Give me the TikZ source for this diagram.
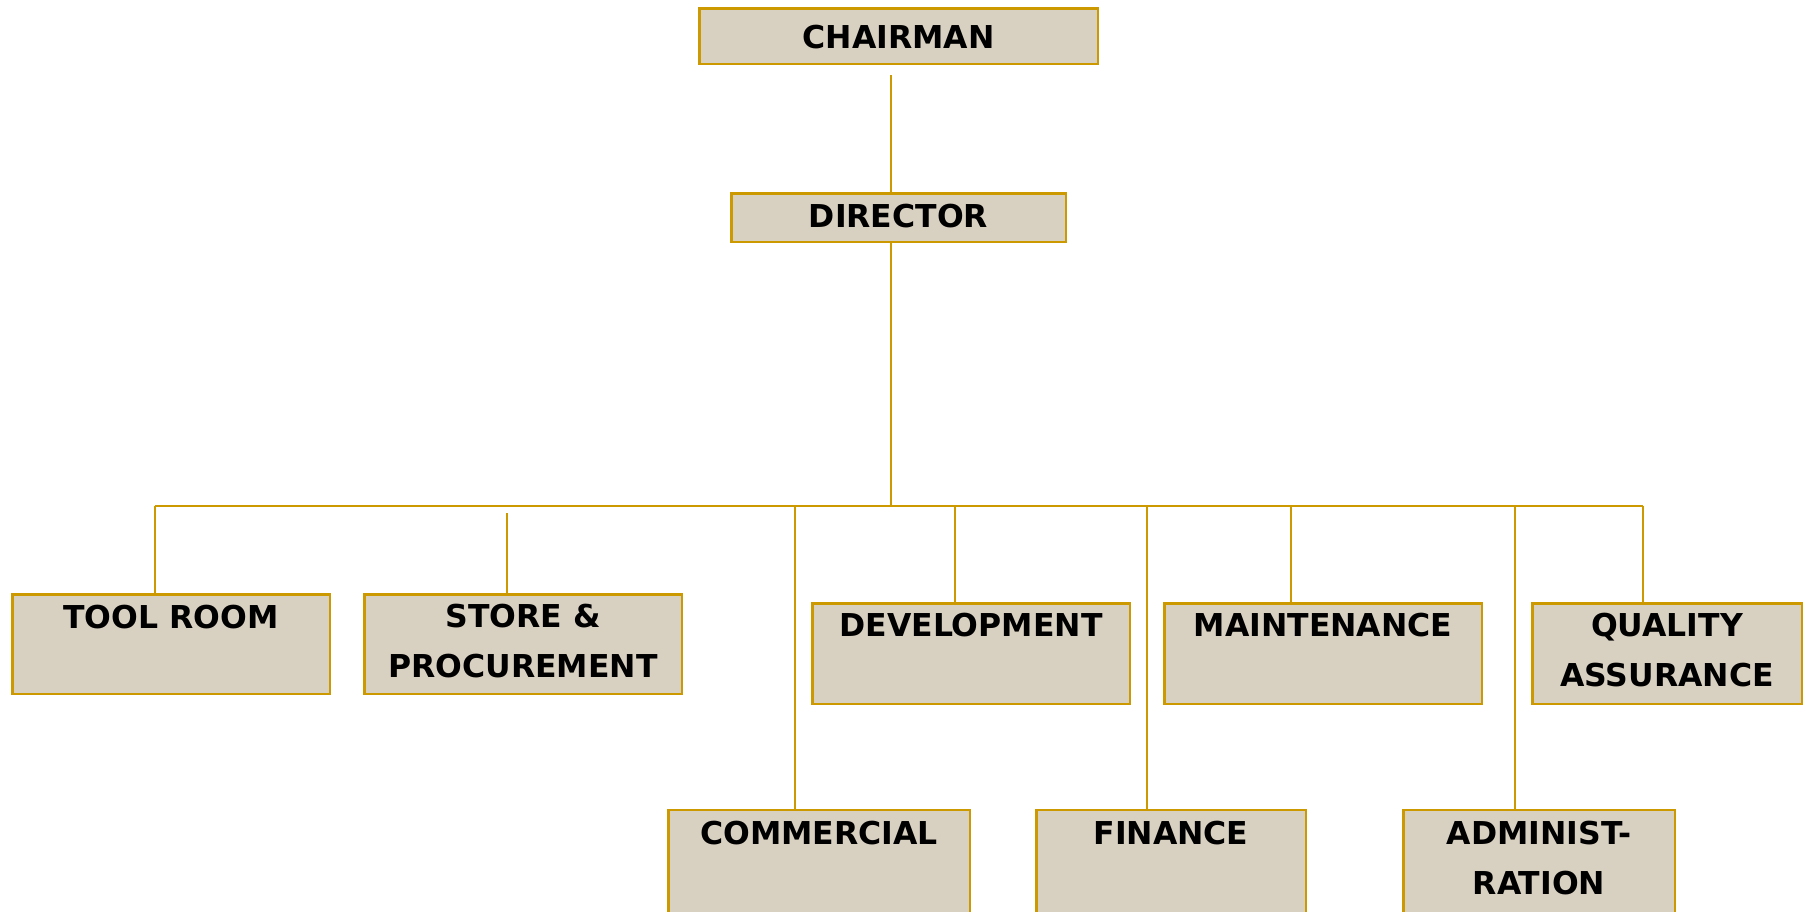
\documentclass[tikz,border=0pt]{standalone}
\usepackage{fontspec}
\setmainfont{DejaVu Sans}
\definecolor{gold}{RGB}{204,153,0}
\definecolor{tanfill}{RGB}{216,208,193}
\tikzset{
  box/.style={draw=gold, fill=tanfill, line width=2.5pt, inner sep=0pt, outer sep=0pt},
  lbl/.style={anchor=base, inner sep=0pt, outer sep=0pt, text=black, font=\fontsize{31.5}{50}\selectfont\bfseries},
  conn/.style={draw=gold, line width=2.5pt}
}
\begin{document}
\begin{tikzpicture}[x=1pt, y=-1pt]
\useasboundingbox (0,0) rectangle (1806,911);
\clip (0,0) rectangle (1806,911);
% boxes
\node[box, minimum width=398.5pt, minimum height=55.5pt] (chair) at (898.5,36) {};
\node[box, minimum width=334.5pt, minimum height=48.5pt] (dir) at (898.5,217.5) {};
\node[box, minimum width=317.5pt, minimum height=99.5pt] (tool) at (171,644) {};
\node[box, minimum width=317.5pt, minimum height=99.5pt] (store) at (523,644) {};
\node[box, minimum width=317.5pt, minimum height=100.5pt] (dev) at (971,653.5) {};
\node[box, minimum width=317.5pt, minimum height=100.5pt] (maint) at (1323,653.5) {};
\node[box, minimum width=269.5pt, minimum height=100.5pt] (qa) at (1667,653.5) {};
\node[box, minimum width=301.5pt, minimum height=120pt] (comm) at (819,870) {};
\node[box, minimum width=269.5pt, minimum height=120pt] (fin) at (1171,870) {};
\node[box, minimum width=271.5pt, minimum height=120pt] (admin) at (1539,870) {};
% texts
\node[lbl] (chair-t) at (898.5,48) {CHAIRMAN};
\node[lbl] (dir-t) at (898.5,227) {DIRECTOR};
\node[lbl] (tool-t) at (171,628) {TOOL ROOM};
\node[lbl] (store-t1) at (523,627) {STORE \&};
\node[lbl] (store-t2) at (523,677) {PROCUREMENT};
\node[lbl] (dev-t) at (971,636) {DEVELOPMENT};
\node[lbl] (maint-t) at (1323,636) {MAINTENANCE};
\node[lbl] (qa-t1) at (1667,636) {QUALITY};
\node[lbl] (qa-t2) at (1667,686) {ASSURANCE};
\node[lbl] (comm-t) at (819,844) {COMMERCIAL};
\node[lbl] (fin-t) at (1171,844) {FINANCE};
\node[lbl] (admin-t1) at (1539,844) {ADMINIST-};
\node[lbl] (admin-t2) at (1539,894) {RATION};
% connector coordinates
\coordinate (ctop) at (891,75);
\coordinate (dtop) at (891,192);
\coordinate (dbot) at (891,243);
\coordinate (hub) at (891,506);
\coordinate (busL) at (155,506);
\coordinate (busR) at (1643,506);
\coordinate (storeTop) at (507,513);
\coordinate (commTop) at (795,506);
\coordinate (devTop) at (955,506);
\coordinate (finTop) at (1147,506);
\coordinate (maintTop) at (1291,506);
\coordinate (adminTop) at (1515,506);
% connectors
\draw[conn] (ctop) -- (dtop |- dir.north);
\draw[conn] (dbot |- dir.south) -- (hub);
\draw[conn] (busL) -- (busR);
\draw[conn] (busL) -- (busL |- tool.north);
\draw[conn] (storeTop) -- (storeTop |- store.north);
\draw[conn] (commTop) -- (commTop |- comm.north);
\draw[conn] (devTop) -- (devTop |- dev.north);
\draw[conn] (finTop) -- (finTop |- fin.north);
\draw[conn] (maintTop) -- (maintTop |- maint.north);
\draw[conn] (adminTop) -- (adminTop |- admin.north);
\draw[conn] (busR) -- (busR |- qa.north);
\end{tikzpicture}
\end{document}
